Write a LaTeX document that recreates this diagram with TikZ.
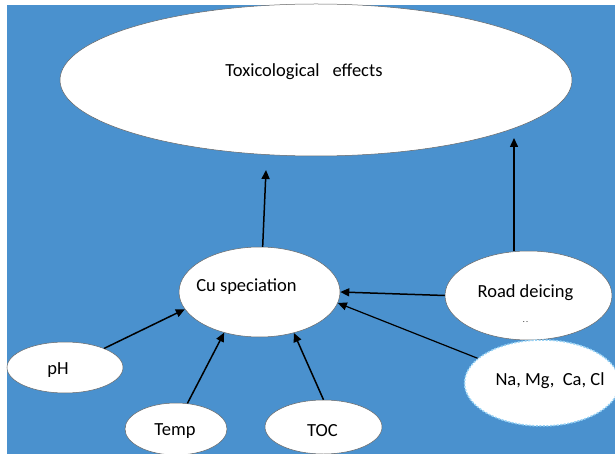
\documentclass[tikz,border=0pt]{standalone}
\usepackage{fontspec}
\setmainfont{Carlito}
\usetikzlibrary{shapes.geometric,arrows.meta}
\definecolor{bgblue}{RGB}{74,145,206}
\definecolor{rimblue}{RGB}{150,210,245}
\begin{document}
\begin{tikzpicture}[x=1pt,y=-1pt,
  bubble/.style={ellipse,fill=white,draw=black!60,line width=0.5pt,inner sep=0pt},
  txt/.style={font=\fontsize{18.5}{22}\selectfont,inner sep=0pt},
  arr/.style={-{Triangle[length=9pt,width=8pt]},line width=1.5pt}]

\useasboundingbox (0,0) rectangle (615,454);
\fill[white] (0,0) rectangle (615,454);
\fill[bgblue] (7,5) rectangle (615,454);

\node[bubble,minimum width=512pt,minimum height=152pt] (tox) at (316,80) {};
\node[bubble,minimum width=161pt,minimum height=90pt] (cu) at (259.5,292) {};
\node[bubble,minimum width=167pt,minimum height=89pt] (road) at (528.5,295.5) {};
\node[bubble,draw=rimblue,dash pattern=on 2pt off 1.5pt,line width=1.5pt,
  minimum width=155pt,minimum height=86pt] (ions) at (542,383) {};
\node[bubble,minimum width=116pt,minimum height=51pt] (ph) at (65,367.5) {};
\node[bubble,minimum width=102pt,minimum height=52pt] (temp) at (176,429) {};
\node[bubble,minimum width=117pt,minimum height=54pt] (toc) at (323.5,427) {};

\node[txt] (tox-t) at (304,72) {Toxicological\hspace{13pt}effects};
\node[txt] (cu-t) at (246.5,287) {Cu speciation};
\node[txt] (road-t) at (525.5,293) {Road deicing};
\node[txt,font=\fontsize{8}{8}\selectfont] (road-dot) at (525.5,322) {.\,.};
\node[txt] (ions-t) at (550,381) {Na, Mg,\ \ Ca, Cl};
\node[txt] (ph-t) at (58,370) {pH};
\node[txt] (temp-t) at (175,431) {Temp};
\node[txt] (toc-t) at (322.5,431) {TOC};

\coordinate (tox-in1) at (266,170);
\coordinate (tox-in2) at (514,138);

\draw[arr] (cu.86) -- (tox-in1);
\draw[arr] (road.north -| tox-in2) -- (tox-in2);
\draw[arr] (road.west) -- (cu.east);
\draw[arr,line width=1.2pt] (ions.159) -- (cu.-8);
\draw[arr] (ph.26) -- (cu.193);
\draw[arr] (temp.66) -- (cu.229);
\draw[arr] (toc.north) -- (cu.310);

\end{tikzpicture}
\end{document}
